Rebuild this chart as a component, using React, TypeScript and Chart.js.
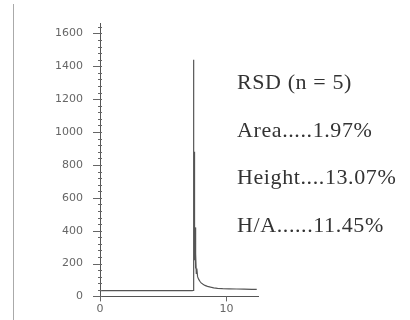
import React, { useEffect, useRef } from "react";
import { Chart, registerables } from "chart.js";

Chart.register(...registerables);

// Retention time (min)
const times: number[] = [
  0, 1, 2, 3, 4, 5, 6, 7, 7.3, 7.36, 7.4, 7.42, 7.44, 7.46, 7.48, 7.5, 7.52, 7.55,
  7.58, 7.62, 7.66, 7.72, 7.8, 7.9, 8.0, 8.15, 8.3, 8.5, 8.75, 9.0, 9.3, 9.7, 10.2,
  10.8, 11.4, 12.0, 12.4,
];
// Detector signal
const signal: number[] = [
  35, 35, 35, 35, 35, 35, 35, 35, 35, 36, 1440, 320, 880, 260, 620, 220, 420, 170,
  260, 140, 170, 120, 105, 92, 82, 74, 67, 61, 56, 52, 49, 47, 46, 45, 44, 43, 43,
];

const yMajor: number[] = [0, 200, 400, 600, 800, 1000, 1200, 1400, 1600];
const xTickValues: number[] = [0, 10];

const noteLines: string[] = [
  "RSD (n = 5)",
  "Area.....1.97%",
  "Height....13.07%",
  "H/A......11.45%",
];

const tickPlugin = {
  id: "customTicks",
  afterDraw(chart: any) {
    const ctx = chart.ctx;
    const y = chart.scales.y;
    const x = chart.scales.x;
    const ax = chart.chartArea.left;
    ctx.save();
    ctx.strokeStyle = "#666";
    ctx.lineWidth = 1;
    ctx.beginPath();
    for (let v = 0; v <= 1640; v += 40) {
      const py = Math.round(y.getPixelForValue(v)) + 0.5;
      const major = v % 200 === 0;
      ctx.moveTo(ax - (major ? 7 : 2), py);
      ctx.lineTo(ax + 2, py);
    }
    const by = chart.chartArea.bottom;
    for (const v of xTickValues) {
      const px = Math.round(x.getPixelForValue(v)) + 0.5;
      ctx.moveTo(px, by);
      ctx.lineTo(px, by + 5);
    }
    ctx.stroke();
    ctx.restore();
  },
};

export default function App() {
  const ref = useRef<HTMLCanvasElement | null>(null);
  useEffect(() => {
    document.body.style.margin = "0";
    if (!ref.current) return;
    const chart = new Chart(ref.current, {
      type: "line",
      data: {
        datasets: [
          {
            data: times.map((t, i) => ({ x: t, y: signal[i] })),
            borderColor: "#555",
            borderWidth: 1.2,
            pointRadius: 0,
            tension: 0,
            fill: false,
          },
        ],
      },
      options: {
        animation: false,
        responsive: false,
        devicePixelRatio: 1,
        layout: { padding: { left: 0, right: 152, top: 12, bottom: 0 } },
        plugins: { legend: { display: false }, tooltip: { enabled: false } },
        scales: {
          x: {
            type: "linear",
            min: 0,
            max: 12.5,
            afterFit: (s: any) => {
              s.height = 21;
            },
            afterBuildTicks: (s: any) => {
              s.ticks = xTickValues.map((v) => ({ value: v }));
            },
            grid: { display: false, drawTicks: false },
            border: { display: true, color: "#555", width: 1 },
            ticks: {
              color: "#666",
              font: { family: "DejaVu Sans", size: 11 },
              padding: 6,
              maxRotation: 0,
              callback: (v: any) => String(v),
            },
          },
          y: {
            min: 0,
            max: 1660,
            afterFit: (s: any) => {
              s.width = 100;
            },
            afterBuildTicks: (s: any) => {
              s.ticks = yMajor.map((v) => ({ value: v }));
            },
            grid: { display: false, drawTicks: false },
            border: { display: true, color: "#555", width: 1 },
            ticks: {
              color: "#666",
              font: { family: "DejaVu Sans", size: 11 },
              padding: 17,
              callback: (v: any) => String(v),
            },
          },
        },
      },
      plugins: [tickPlugin],
    });
    return () => chart.destroy();
  }, []);

  return (
    <div style={{ position: "relative", width: 410, height: 320, background: "#fff", overflow: "hidden" }}>
      <div style={{ position: "absolute", left: 13, top: 4, width: 0, height: 316, borderLeft: "1px solid #aaa" }} />
      <canvas ref={ref} width={410} height={320} style={{ position: "absolute", left: 0, top: 0 }} />
      {noteLines.map((s, i) => (
        <div
          key={i}
          style={{
            position: "absolute",
            left: 237,
            top: 69 + i * 47.5,
            fontFamily: "'Liberation Serif', serif",
            fontSize: 22,
            letterSpacing: "0.6px",
            color: "#333",
            whiteSpace: "nowrap",
            lineHeight: "26px",
          }}
        >
          {s}
        </div>
      ))}
    </div>
  );
}
